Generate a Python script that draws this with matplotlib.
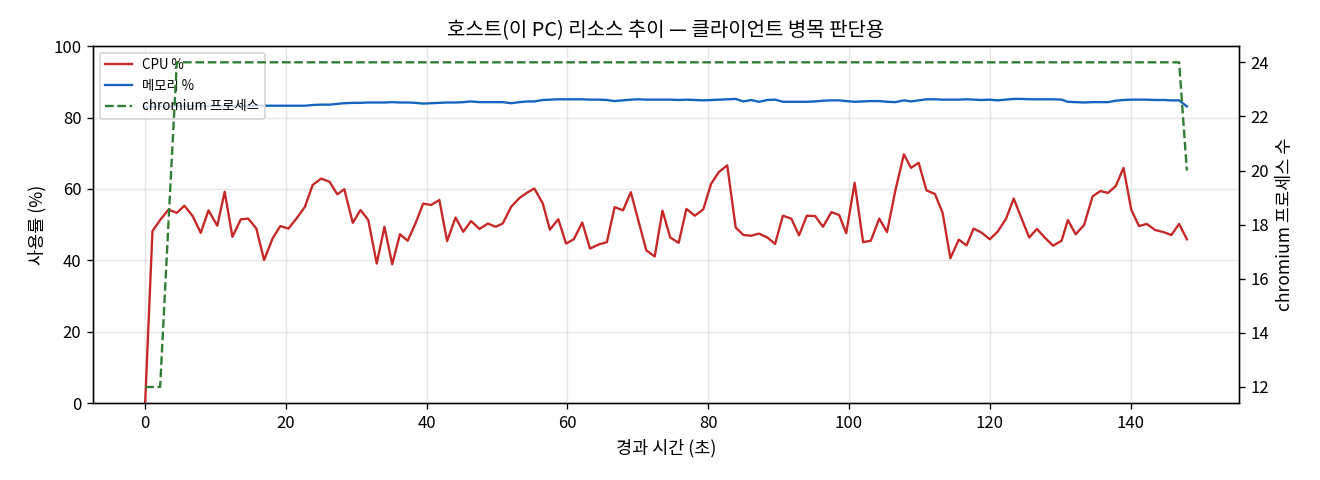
import numpy as np
import matplotlib
matplotlib.use("Agg")
import matplotlib.pyplot as plt

plt.rcParams['font.family'] = ['Noto Sans CJK KR', 'DejaVu Sans']

# 경과 시간 (초)
elapsed = [0.0, 1.04, 2.13, 3.3, 4.5, 5.57, 6.75, 7.9, 9.0, 10.25,
           11.3, 12.4, 13.6, 14.65, 15.8, 16.9, 18.1, 19.2, 20.35, 21.5,
           22.7, 23.8, 25.0, 26.2, 27.3, 28.3, 29.5, 30.6, 31.7, 32.9,
           34.0, 35.1, 36.2, 37.3, 38.4, 39.5, 40.6, 41.8, 42.9, 44.1,
           45.2, 46.3, 47.5, 48.7, 49.8, 50.8, 52.0, 53.2, 54.3, 55.3,
           56.5, 57.5, 58.7, 59.8, 60.9, 62.1, 63.2, 64.5, 65.6, 66.7,
           67.9, 69.0, 70.1, 71.2, 72.4, 73.5, 74.6, 75.8, 76.9, 78.1,
           79.3, 80.4, 81.5, 82.7, 83.9, 85.0, 86.1, 87.2, 88.4, 89.5,
           90.6, 91.8, 92.9, 94.0, 95.2, 96.3, 97.5, 98.6, 99.6, 100.8,
           102.0, 103.1, 104.3, 105.4, 106.6, 107.8, 108.8, 109.9, 111.0, 112.2,
           113.3, 114.4, 115.6, 116.7, 117.7, 118.8, 120.0, 121.1, 122.3, 123.4,
           124.5, 125.6, 126.7, 127.8, 129.0, 130.2, 131.1, 132.2, 133.4, 134.6,
           135.7, 136.8, 137.9, 139.0, 140.1, 141.2, 142.3, 143.5, 144.7, 145.8,
           146.9, 148.0]

cpu = [0.0, 48.2, 51.3, 54.2, 53.3, 55.3, 52.4, 47.7, 54.0, 49.7,
       59.2, 46.6, 51.5, 51.7, 48.9, 40.1, 46.1, 49.6, 48.9, 51.7,
       55.0, 61.1, 62.9, 62.0, 58.5, 59.9, 50.5, 54.1, 51.3, 39.1,
       49.4, 38.9, 47.3, 45.5, 50.3, 55.9, 55.5, 56.9, 45.4, 52.0,
       48.0, 51.0, 48.8, 50.3, 49.4, 50.3, 55.0, 57.5, 59.0, 60.1,
       55.9, 48.6, 51.5, 44.7, 45.9, 50.6, 43.3, 44.5, 45.1, 54.9,
       54.0, 59.1, 50.9, 42.8, 41.1, 53.9, 46.4, 44.9, 54.4, 52.5,
       54.3, 61.4, 64.7, 66.6, 49.2, 47.1, 46.9, 47.5, 46.4, 44.6,
       52.5, 51.7, 47.0, 52.5, 52.4, 49.4, 53.5, 52.7, 47.6, 61.7,
       45.1, 45.5, 51.7, 47.9, 59.7, 69.7, 65.9, 67.3, 59.6, 58.6,
       53.3, 40.6, 45.8, 44.2, 48.9, 47.8, 45.9, 48.0, 51.6, 57.3,
       51.8, 46.4, 48.8, 46.4, 44.1, 45.5, 51.3, 47.3, 49.9, 57.9,
       59.4, 58.9, 60.8, 65.9, 54.2, 49.6, 50.2, 48.5, 47.9, 47.1,
       50.2, 45.9]

memory = [83.0, 83.0, 83.1, 83.1, 83.2, 83.2, 83.2, 83.2, 83.2, 83.2,
          83.2, 83.2, 83.2, 83.2, 83.3, 83.3, 83.3, 83.3, 83.3, 83.3,
          83.3, 83.5, 83.6, 83.6, 83.8, 84.0, 84.1, 84.1, 84.2, 84.2,
          84.2, 84.3, 84.2, 84.2, 84.1, 83.9, 84.0, 84.1, 84.2, 84.2,
          84.3, 84.5, 84.3, 84.3, 84.3, 84.3, 84.0, 84.3, 84.5, 84.5,
          84.9, 85.0, 85.1, 85.1, 85.1, 85.1, 85.0, 85.0, 84.9, 84.6,
          84.8, 85.0, 85.1, 85.0, 85.0, 85.0, 85.0, 84.9, 85.0, 84.9,
          84.8, 84.9, 85.0, 85.1, 85.2, 84.5, 84.9, 84.4, 84.9, 85.0,
          84.4, 84.4, 84.4, 84.4, 84.5, 84.7, 84.8, 84.8, 84.6, 84.4,
          84.5, 84.6, 84.6, 84.4, 84.3, 84.8, 84.5, 84.8, 85.1, 85.1,
          85.0, 85.0, 85.0, 85.1, 85.0, 84.9, 85.0, 84.8, 85.0, 85.2,
          85.2, 85.1, 85.1, 85.1, 85.1, 85.0, 84.4, 84.3, 84.2, 84.3,
          84.3, 84.3, 84.7, 84.9, 85.0, 85.0, 85.0, 84.9, 84.9, 84.8,
          84.8, 83.1]

chromium = [12, 12, 12, 18] + [24] * 127 + [20]

fig, ax = plt.subplots(figsize=(11, 4), dpi=120)
l1, = ax.plot(elapsed, cpu, color='#c62828', lw=1.4, label='CPU %')
l2, = ax.plot(elapsed, memory, color='#1565c0', lw=1.4, label='메모리 %')
ax.set_ylim(0, 100)
ax.set_xlabel('경과 시간 (초)', fontsize=10.5)
ax.set_ylabel('사용률 (%)', fontsize=10.5)
ax.grid(alpha=0.3)

ax2 = ax.twinx()
l3, = ax2.plot(elapsed, chromium, color='#2e7d32', lw=1.4, ls='--', label='chromium 프로세스')
ax2.set_ylabel('chromium 프로세스 수', fontsize=10.5)

ax.legend(handles=[l1, l2, l3], loc='upper left', fontsize=8)
ax.set_title('호스트(이 PC) 리소스 추이 — 클라이언트 병목 판단용', fontsize=12)

plt.subplots_adjust(left=0.0705, right=0.9386, top=0.904, bottom=0.16)
plt.savefig('out.png')
